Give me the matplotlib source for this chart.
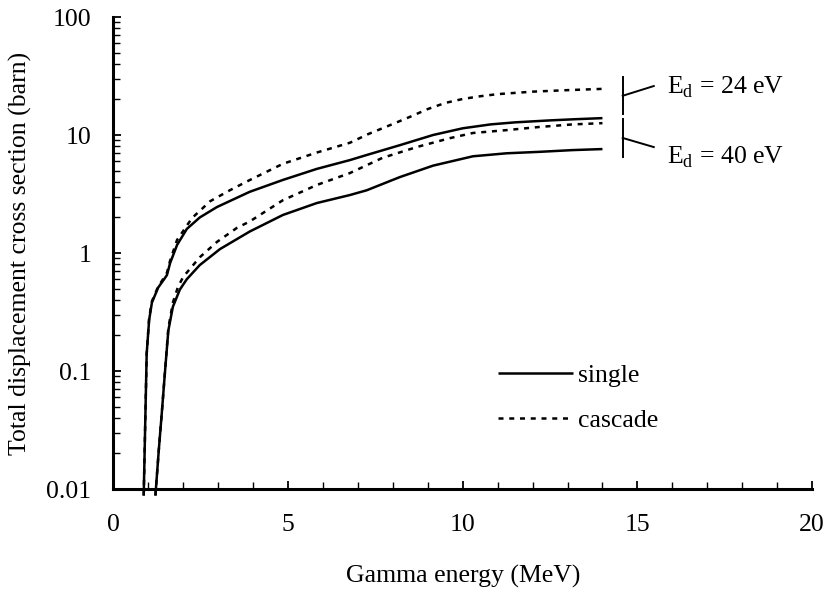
import matplotlib
matplotlib.use("Agg")
import matplotlib.pyplot as plt
from matplotlib.ticker import LogLocator, NullFormatter, FixedLocator

plt.rcParams["font.family"] = ["Liberation Serif", "DejaVu Serif"]
plt.rcParams["mathtext.fontset"] = "custom"
plt.rcParams["mathtext.rm"] = "Liberation Serif"

# Total displacement cross sections (barn) versus gamma energy (MeV)
energy_single_24 = [0.865, 0.95, 1.02, 1.10, 1.28, 1.45, 1.53, 1.62, 1.82, 2.1, 2.47,
                    2.96, 3.9, 4.85, 5.82, 6.77, 7.25, 8.2, 9.15, 10.0, 10.8, 11.5,
                    12.5, 13.2, 14.0]
sigma_single_24 = [0.0088, 0.14, 0.27, 0.38, 0.51, 0.6, 0.65, 0.82, 1.17, 1.6, 2.0,
                   2.45, 3.3, 4.16, 5.16, 6.13, 6.77, 8.2, 10.0, 11.4, 12.3, 12.8,
                   13.3, 13.6, 13.9]

energy_cascade_24 = [0.865, 0.95, 1.02, 1.10, 1.28, 1.45, 1.53, 1.62, 1.82, 2.25, 2.77,
                     3.33, 3.9, 4.85, 5.82, 6.77, 7.3, 8.0, 8.5, 9.0, 9.5, 10.0,
                     10.5, 11.0, 12.0, 13.0, 14.0]
sigma_cascade_24 = [0.0088, 0.14, 0.28, 0.39, 0.52, 0.62, 0.68, 0.86, 1.29, 1.98, 2.75,
                    3.4, 4.15, 5.7, 7.1, 8.6, 10.2, 12.4, 14.3, 16.6, 18.7, 20.2,
                    21.3, 22.2, 23.3, 24.0, 24.6]

energy_single_40 = [1.20, 1.30, 1.38, 1.47, 1.57, 1.70, 1.9, 2.1, 2.47, 3.05, 3.9,
                    4.85, 5.82, 6.77, 7.25, 8.2, 9.15, 10.29, 11.26, 12.2, 13.15, 14.0]
sigma_single_40 = [0.0088, 0.022, 0.043, 0.095, 0.22, 0.35, 0.49, 0.6, 0.79, 1.08, 1.52,
                   2.1, 2.65, 3.1, 3.4, 4.4, 5.5, 6.6, 7.0, 7.2, 7.45, 7.6]

energy_cascade_40 = [1.20, 1.30, 1.38, 1.47, 1.57, 1.70, 1.85, 2.0, 2.47, 2.96, 3.53,
                     3.9, 4.85, 5.82, 6.77, 7.7, 8.68, 9.63, 10.29, 11.26, 12.2, 13.15, 14.0]
sigma_cascade_40 = [0.0088, 0.022, 0.043, 0.095, 0.23, 0.38, 0.52, 0.63, 0.92, 1.24, 1.63,
                    1.85, 2.8, 3.77, 4.76, 6.4, 7.9, 9.4, 10.4, 11.0, 11.7, 12.3, 12.6]

x_ticks = [0, 5, 10, 15, 20]
y_ticks = [0.01, 0.1, 1, 10, 100]
y_tick_labels = ["0.01", "0.1", "1", "10", "100"]
legend_labels = ["single", "cascade"]
bracket_labels = ["E$_\\mathrm{d}$ = 24 eV", "E$_\\mathrm{d}$ = 40 eV"]

W, H, DPI = 832, 593, 100
FS = 18.5
fig = plt.figure(figsize=(W / DPI, H / DPI), dpi=DPI)
ax = fig.add_axes([113.5 / W, 1 - 489 / H, (812 - 113.5) / W, (489 - 17) / H])

lw = 1.8
dash = (0, (2.0, 2.3))
solid_kw = dict(color="black", lw=lw, clip_on=False, solid_capstyle="butt")
dash_kw = dict(color="black", lw=lw, clip_on=False, linestyle=dash)

l_single, = ax.plot(energy_single_24, sigma_single_24, **solid_kw)
ax.plot(energy_single_40, sigma_single_40, **solid_kw)
l_cascade, = ax.plot(energy_cascade_24, sigma_cascade_24, **dash_kw)
ax.plot(energy_cascade_40, sigma_cascade_40, **dash_kw)

ax.set_yscale("log")
ax.set_xlim(0, 20)
ax.set_ylim(0.01, 100)

for side in ("top", "right"):
    ax.spines[side].set_visible(False)
for side in ("left", "bottom"):
    ax.spines[side].set_linewidth(2.2)

ax.xaxis.set_major_locator(FixedLocator(x_ticks))
ax.xaxis.set_minor_locator(FixedLocator(range(0, 21)))
ax.set_xticklabels([str(t) for t in x_ticks])
ax.yaxis.set_major_locator(FixedLocator(y_ticks))
ax.set_yticklabels(y_tick_labels)
ax.yaxis.set_minor_locator(LogLocator(base=10, subs=range(2, 10)))
ax.yaxis.set_minor_formatter(NullFormatter())

ax.tick_params(axis="both", which="major", direction="in", length=6, width=1.3,
               labelsize=FS)
ax.tick_params(axis="both", which="minor", direction="in", length=5, width=1.0)
ax.tick_params(axis="x", which="major", pad=18)
ax.tick_params(axis="y", which="major", pad=16)

ax.set_xlabel("Gamma energy (MeV)", fontsize=FS)
ax.xaxis.set_label_coords(0.5, -0.16)
ax.set_ylabel("Total displacement cross section (barn)", fontsize=FS)
ax.yaxis.set_label_coords(-0.116, 0.5)

# Brackets grouping the curve ends by displacement threshold energy
bx, tip_x, txt_x = 14.58, 15.47, 15.84
brackets = [
    dict(span=(15.1, 31.0), root=21.5, tip=26.0, text_y=25.5, label=bracket_labels[0]),
    dict(span=(6.5, 13.7), root=9.44, tip=7.9, text_y=6.5, label=bracket_labels[1]),
]
for b in brackets:
    ax.plot([bx, bx], b["span"], color="black", lw=1.4, clip_on=False)
    ax.plot([bx, tip_x], [b["root"], b["tip"]], color="black", lw=1.4, clip_on=False)
    ax.text(txt_x, b["text_y"], b["label"], fontsize=FS, va="center", ha="left")

leg = ax.legend([l_single, l_cascade], legend_labels, loc="upper left",
                bbox_to_anchor=((498 - 113.5) / (812 - 113.5), (489 - 364) / 472),
                frameon=False, fontsize=FS, handlelength=2.9, handletextpad=0.2,
                labelspacing=0.84, borderpad=0, borderaxespad=0)

fig.savefig("out.png", dpi=DPI)
